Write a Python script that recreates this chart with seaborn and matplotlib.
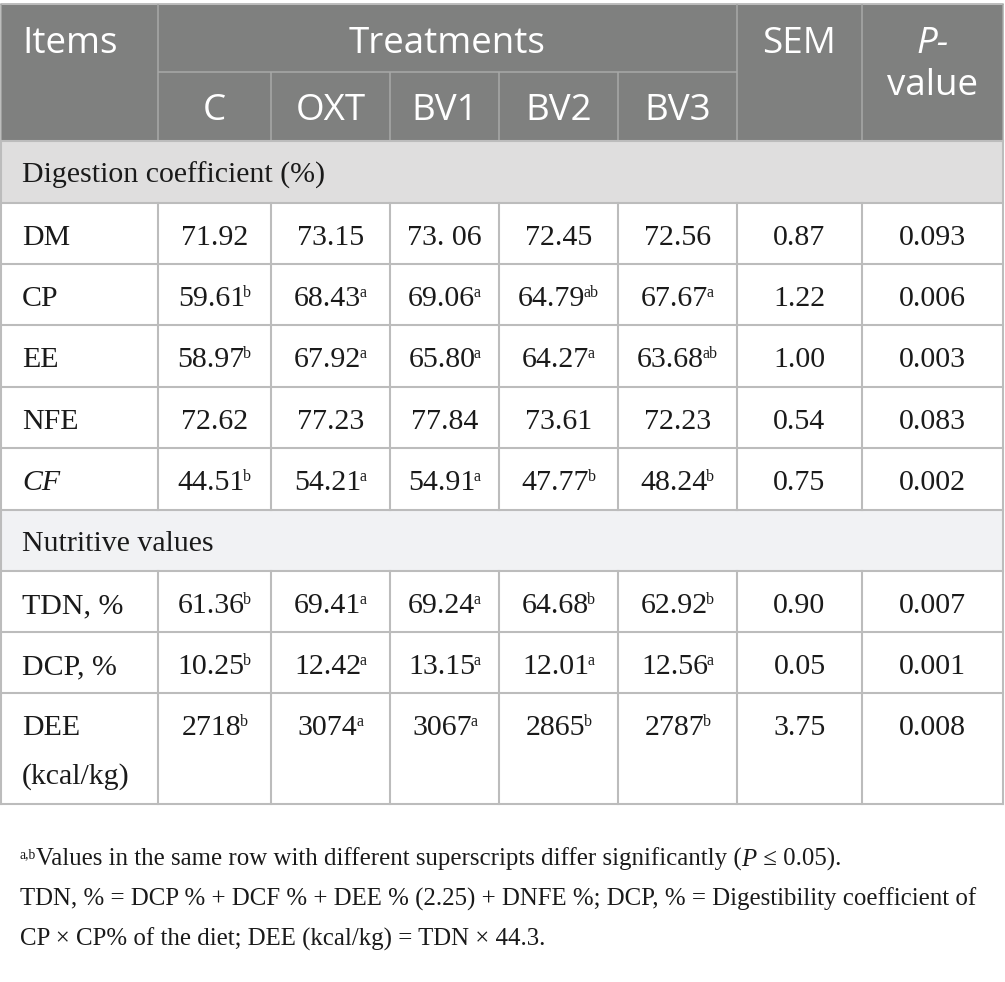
import matplotlib
matplotlib.use("Agg")
import matplotlib.pyplot as plt
import seaborn as sns
from matplotlib.patches import Rectangle

sns.set_theme(style="white")
plt.rcParams['font.family'] = ['Liberation Serif', 'DejaVu Serif']

# ---------------- data ----------------
header_items = "Items"
header_treat = "Treatments"
header_sem = "SEM"
treatments = ["C", "OXT", "BV1", "BV2", "BV3"]
section1 = "Digestion coefficient (%)"
section2 = "Nutritive values"
items1 = ["DM", "CP", "EE", "NFE", "CF"]
items2 = ["TDN, %", "DCP, %", "DEE\n(kcal/kg)"]

dm_vals = ["71.92", "73.15", "73. 06", "72.45", "72.56"]
dm_sups = ["", "", "", "", ""]
cp_vals = ["59.61", "68.43", "69.06", "64.79", "67.67"]
cp_sups = ["b", "a", "a", "ab", "a"]
ee_vals = ["58.97", "67.92", "65.80", "64.27", "63.68"]
ee_sups = ["b", "a", "a", "a", "ab"]
nfe_vals = ["72.62", "77.23", "77.84", "73.61", "72.23"]
nfe_sups = ["", "", "", "", ""]
cf_vals = ["44.51", "54.21", "54.91", "47.77", "48.24"]
cf_sups = ["b", "a", "a", "b", "b"]
tdn_vals = ["61.36", "69.41", "69.24", "64.68", "62.92"]
tdn_sups = ["b", "a", "a", "b", "b"]
dcp_vals = ["10.25", "12.42", "13.15", "12.01", "12.56"]
dcp_sups = ["b", "a", "a", "a", "a"]
dee_vals = ["2718", "3074", "3067", "2865", "2787"]
dee_sups = ["b", "a", "a", "b", "b"]
sem_vals = ["0.87", "1.22", "1.00", "0.54", "0.75", "0.90", "0.05", "3.75"]
p_vals = ["0.093", "0.006", "0.003", "0.083", "0.002", "0.007", "0.001", "0.008"]

foot1_sup = "a,b"
foot1_a = "Values in the same row with different superscripts differ significantly ("
foot1_p = "P"
foot1_b = " ≤ 0.05)."
foot2 = "TDN, % = DCP % + DCF % + DEE % (2.25) + DNFE %; DCP, % = Digestibility coefficient of"
foot3 = "CP × CP% of the diet; DEE (kcal/kg) = TDN × 44.3."

# ---------------- layout ----------------
W, H = 1005, 982
fig = plt.figure(figsize=(W / 100, H / 100), dpi=100)
ax = fig.add_axes([0, 0, 1, 1])
ax.set_xlim(0, W)
ax.set_ylim(H, 0)
ax.axis('off')
R = fig.canvas.get_renderer()

X = [1, 158, 271, 390, 499, 618, 737, 862, 1003]
HY = [4, 72, 141]
sec1_y = (141, 203)
rows1_y = [203, 264, 325, 387, 448, 510]
sec2_y = (510, 571)
rows2_y = [571, 632, 693, 804]

HEAD_BG = "#7f807f"
HEAD_LINE = "#a8a9a8"
SEC1_BG = "#dfdede"
SEC2_BG = "#f1f2f4"
GRID = "#bcbcbc"
TXT = "#1a1a1a"

BODY_FS = 21.5
SUP_FS = 11.5
SUP_RAISE = 9
HEAD_FS = 26.5
HEAD_FONT = ['Open Sans', 'DejaVu Sans']

def width(t):
    return t.get_window_extent(R).width

def runs(x, y, parts, ha='left', gap=-1.5):
    objs = []
    for s, kw, dy in parts:
        t = ax.text(0, y - dy, s, va='baseline', ha='left', **kw)
        objs.append(t)
    ws = [width(t) for t in objs]
    gaps = [0] + [gap if (parts[i][2] > 0 or parts[i - 1][2] > 0) else 0 for i in range(1, len(parts))]
    total = sum(ws) + sum(gaps)
    cur = x - total / 2 if ha == 'center' else x
    for t, w, g in zip(objs, ws, gaps):
        cur += g
        t.set_x(cur)
        cur += w
    return objs

# backgrounds
ax.add_patch(Rectangle((X[0], HY[0]), X[-1] - X[0], HY[2] - HY[0], facecolor=HEAD_BG, edgecolor='none', zorder=0))
ax.add_patch(Rectangle((X[0], sec1_y[0]), X[-1] - X[0], sec1_y[1] - sec1_y[0], facecolor=SEC1_BG, edgecolor='none', zorder=0))
ax.add_patch(Rectangle((X[0], sec2_y[0]), X[-1] - X[0], sec2_y[1] - sec2_y[0], facecolor=SEC2_BG, edgecolor='none', zorder=0))

# header lines
hl = dict(color=HEAD_LINE, lw=1.1, zorder=1, solid_capstyle='butt')
ax.plot([X[0], X[-1]], [HY[0], HY[0]], color="#bdbdbd", lw=1.4, zorder=1)
ax.plot([X[1], X[6]], [HY[1], HY[1]], **hl)
for xi in [X[1], X[6], X[7]]:
    ax.plot([xi, xi], [HY[0], HY[2]], **hl)
for xi in X[2:6]:
    ax.plot([xi, xi], [HY[1], HY[2]], **hl)
ax.plot([X[0], X[0]], [HY[0], HY[2]], **hl)
ax.plot([X[-1], X[-1]], [HY[0], HY[2]], **hl)

# body grid
gl = dict(color=GRID, lw=1.5, zorder=1, solid_capstyle='projecting')
for yy in [sec1_y[0]] + rows1_y + rows2_y:
    ax.plot([X[0], X[-1]], [yy, yy], **gl)
ax.plot([X[0], X[0]], [sec1_y[0], rows2_y[-1]], **gl)
ax.plot([X[-1], X[-1]], [sec1_y[0], rows2_y[-1]], **gl)
for xi in X[1:-1]:
    ax.plot([xi, xi], [rows1_y[0], rows1_y[-1]], **gl)
    ax.plot([xi, xi], [rows2_y[0], rows2_y[-1]], **gl)

# header text
hk = dict(color='white', fontsize=HEAD_FS, family=HEAD_FONT)
ax.text(22, 53, header_items, ha='left', va='baseline', **hk)
ax.text((X[1] + X[6]) / 2, 53, header_treat, ha='center', va='baseline', **hk)
for i, tr in enumerate(treatments):
    ax.text((X[1 + i] + X[2 + i]) / 2, 120, tr, ha='center', va='baseline', **hk)
ax.text((X[6] + X[7]) / 2, 53, header_sem, ha='center', va='baseline', **hk)
ax.text((X[7] + X[8]) / 2, 53, "P-", ha='center', va='baseline', style='italic', **hk)
ax.text((X[7] + X[8]) / 2, 95, "value", ha='center', va='baseline', **hk)

bk = dict(color=TXT, fontsize=BODY_FS)
sk = dict(color=TXT, fontsize=SUP_FS)

# section labels
ax.text(22, sec1_y[0] + 42, section1, ha='left', va='baseline', **bk)
ax.text(22, sec2_y[0] + 41, section2, ha='left', va='baseline', **bk)

rows_vals = [dm_vals, cp_vals, ee_vals, nfe_vals, cf_vals, tdn_vals, dcp_vals, dee_vals]
rows_sups = [dm_sups, cp_sups, ee_sups, nfe_sups, cf_sups, tdn_sups, dcp_sups, dee_sups]
labels = items1 + items2
tops = rows1_y[:-1] + rows2_y[:-1]

for r, (lab, vals, sups, top) in enumerate(zip(labels, rows_vals, rows_sups, tops)):
    base = top + 42
    lines = lab.split("\n")
    for k, ln in enumerate(lines):
        ax.text(22, base + 49 * k, ln, ha='left', va='baseline',
                style='italic' if lab == "CF" else 'normal', **bk)
    for c, (v, s) in enumerate(zip(vals, sups)):
        cx = (X[1 + c] + X[2 + c]) / 2
        parts = [(v, bk, 0)]
        if s:
            parts.append((s, sk, SUP_RAISE))
        runs(cx, base, parts, ha='center')
    ax.text((X[6] + X[7]) / 2, base, sem_vals[r], ha='center', va='baseline', **bk)
    ax.text((X[7] + X[8]) / 2, base, p_vals[r], ha='center', va='baseline', **bk)

# footnotes: fit size so line 2 spans the target width
probe = ax.text(0, 0, foot2, fontsize=20)
fs = 20 * 958 / width(probe)
probe.remove()
fk = dict(color=TXT, fontsize=fs)
fsk = dict(color=TXT, fontsize=fs * 0.55)
runs(20, 866, [(foot1_sup, fsk, 8), (foot1_a, fk, 0), (foot1_p, dict(fk, style='italic'), 0), (foot1_b, fk, 0)], gap=-0.5)
ax.text(20, 906, foot2, ha='left', va='baseline', **fk)
ax.text(20, 946, foot3, ha='left', va='baseline', **fk)

fig.savefig("out.png", dpi=100, facecolor='white')
